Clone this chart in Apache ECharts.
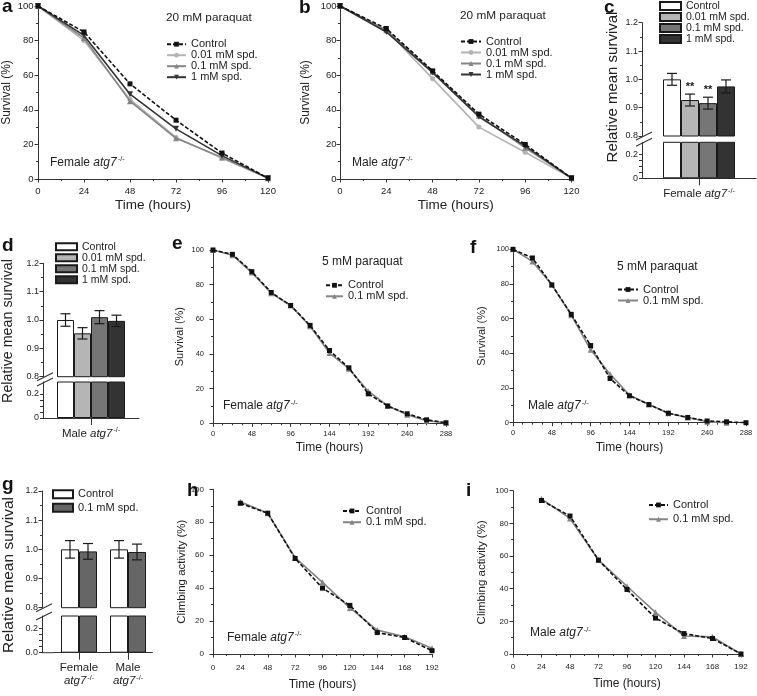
<!DOCTYPE html>
<html><head><meta charset="utf-8">
<script src="https://cdn.jsdelivr.net/npm/echarts@6/dist/echarts.min.js"></script>
<style>html,body{margin:0;padding:0;background:#fff}#main{width:757px;height:696px}</style>
</head><body><div id="main"></div>
<script>
// ================= DATA =================
// panels a, b : 20 mM paraquat survival (%)
const hours20 = [0, 24, 48, 72, 96, 120];
const femA_control = [100, 85, 55, 34, 15, 0.5];
const femA_spd001 = [100, 80, 46, 24, 12, 0.5];
const femA_spd01 = [100, 81.5, 45, 23.5, 12.5, 0.5];
const femA_spd1 = [100, 83, 49, 29, 13.5, 0.5];
const maleB_control = [100, 87, 62.5, 37.5, 20, 0.5];
const maleB_spd001 = [100, 86, 58, 30, 15.5, 0.5];
const maleB_spd01 = [100, 86, 62, 36.5, 18, 0.5];
const maleB_spd1 = [100, 85, 61.5, 36, 19, 0.5];

// group names
const names4 = ['Control', '0.01 mM spd.', '0.1 mM spd.', '1 mM spd.'];
const names2 = ['Control', '0.1 mM spd.'];

// panels c, d : relative mean survival (bars)
const catC = ['Female atg7-/-'];
const meanC = [1.0, 0.927, 0.916, 0.975];
const errC = [0.021, 0.021, 0.021, 0.023];
const sigC = ['', '**', '**', ''];
const catD = ['Male atg7-/-'];
const meanD = [1.0, 0.953, 1.01, 0.997];
const errD = [0.022, 0.02, 0.023, 0.02];
const sigD = ['', '', '', ''];

// panels e, f : 5 mM paraquat survival (%)
const hours5 = [0, 24, 48, 72, 96, 120, 144, 168, 192, 216, 240, 264, 288];
const femE_control = [100, 97.5, 87.5, 75.5, 68, 56.5, 42, 32, 17, 10, 5.5, 2, 0.3];
const femE_spd01 = [100, 97, 87, 75, 68, 56, 40.5, 31.5, 18.5, 10, 5, 1.5, 0.3];
const maleF_control = [100, 95, 79.5, 62.5, 44.5, 25.5, 15.5, 10.5, 5.5, 3, 1, 0.5, 0];
const maleF_spd01 = [100, 93, 79.5, 62, 42, 28, 16, 10.5, 5.5, 3, 0.5, 0];

// panel g : relative mean survival, 5 mM paraquat
const catG = ['Female atg7-/-', 'Male atg7-/-'];
const meanG_control = [1.0, 1.0];
const errG_control = [0.03, 0.03];
const meanG_spd01 = [0.993, 0.991];
const errG_spd01 = [0.027, 0.027];

// panels h, i : climbing activity (%)
const hoursClimb = [24, 48, 72, 96, 120, 144, 168, 192];
const femH_control = [91.5, 85.5, 58, 40, 29.5, 13, 10, 2];
const femH_spd01 = [92.5, 85.5, 58.5, 43.5, 28, 14.5, 10.5, 3.5];
const maleI_control = [94, 84.5, 57.5, 39.5, 22, 12.5, 9.5, 0];
const maleI_spd01 = [95, 83, 57.5, 41.5, 25.5, 11, 10.5, 0];

// tick labels
const tickHours20 = [0, 24, 48, 72, 96, 120];
const tickHours5 = [0, 48, 96, 144, 192, 240, 288];
const tickHoursClimb = [0, 24, 48, 72, 96, 120, 144, 168, 192];
const tickPct = [0, 20, 40, 60, 80, 100];
const tickRelUpper = [0.8, 0.9, 1.0, 1.1, 1.2];
const tickRelLower = [0, 0.2];
const tickRelLowerMinor = [0, 0.05, 0.1, 0.15, 0.2];
const relLowerMax = 0.3;

// texts
const txtSurv = 'Survival (%)';
const txtTime = 'Time (hours)';
const txtClimb = 'Climbing activity (%)';
const txtRel = 'Relative mean survival';

// ================= LAYOUT / STYLE =================
const FONT = 'Liberation Sans';
const INK = '#222';
const AX = '#333';
const L = {
  a: {left: 38, top: 6, width: 230, height: 173},
  b: {left: 340, top: 6, width: 231.5, height: 173},
  cUp: {left: 642, top: 22.7, width: 114, height: 113.3},
  cLow: {left: 642, top: 142.3, width: 114, height: 36},
  dUp: {left: 43, top: 263.3, width: 96, height: 113.4},
  dLow: {left: 43, top: 382, width: 96, height: 36},
  e: {left: 213, top: 250, width: 233, height: 173.3},
  f: {left: 513, top: 249.3, width: 233, height: 173.4},
  gUp: {left: 54.5, top: 491, width: 98, height: 116.7},
  gLow: {left: 54.5, top: 616, width: 98, height: 36.7},
  h: {left: 213, top: 489.3, width: 219, height: 164.7},
  i: {left: 513, top: 490.7, width: 228, height: 163.3}
};
const gridKeys = ['a', 'b', 'cUp', 'cLow', 'dUp', 'dLow', 'e', 'f', 'gUp', 'gLow', 'h', 'i'];
const GI = {}; gridKeys.forEach((k, i) => GI[k] = i);

const ST = {
  control: {color: '#111', dash: [4, 2], symbol: 'rect', size: 5, rotate: 0},
  s001: {color: '#b3b3b3', dash: 'solid', symbol: 'circle', size: 5, rotate: 0},
  s01: {color: '#858585', dash: 'solid', symbol: 'triangle', size: 6, rotate: 0},
  s1: {color: '#333', dash: 'solid', symbol: 'triangle', size: 6, rotate: 180}
};
const BARFILL = ['#ffffff', '#b5b5b5', '#767676', '#333333'];
const BARFILL_G = ['#ffffff', '#666666'];

function stepOf(arr) { return Math.round((arr[1] - arr[0]) * 1000) / 1000; }

function valAxis(key, ticks, o) {
  return {
    type: 'value', gridIndex: GI[key],
    min: ticks[0], max: ticks[ticks.length - 1], interval: stepOf(ticks),
    axisLine: {show: true, onZero: false, lineStyle: {color: AX, width: 1}},
    axisTick: {show: true, inside: false, length: 3.5, lineStyle: {color: AX, width: 1}},
    minorTick: {show: true, splitNumber: o.minor || 2, length: 2, lineStyle: {color: AX, width: 1}},
    splitLine: {show: false}, minorSplitLine: {show: false},
    axisLabel: {fontSize: o.fs, margin: o.margin, color: INK, fontFamily: FONT, showMinLabel: true, showMaxLabel: true,
      formatter: o.fmt},
    name: o.name || '', nameLocation: 'middle', nameGap: o.nameGap, nameMoveOverlap: false,
    nameTextStyle: {fontSize: o.nameFs, color: INK, fontFamily: FONT}
  };
}

function genoRich(label, twoLine) {
  const m = label.match(/^(\S+)\s+(atg7)(.*)$/);
  if (!m) return label;
  return m[1] + (twoLine ? '\n' : ' ') + '{i|' + m[2] + '}{s|' + m[3] + '}';
}
function richStyles(fs, lh) {
  return {
    i: {fontStyle: 'italic', fontSize: fs, fontFamily: FONT, color: INK, fill: INK, lineHeight: lh},
    s: {fontSize: fs * 0.62, fontFamily: FONT, color: INK, fill: INK, verticalAlign: 'top', lineHeight: lh, padding: [0, 0, 0, 1]}
  };
}

// ---------- axes ----------
const xAxes = [], yAxes = [];
function lineAxes(key, xt, xMinor, o) {
  xAxes.push(valAxis(key, xt, {minor: xMinor, fs: o.tfs, margin: o.xMargin, name: txtTime, nameGap: o.xNameGap, nameFs: o.xNameFs}));
  yAxes.push(valAxis(key, tickPct, {minor: 2, fs: o.tfs, margin: o.yMargin, name: o.yName, nameGap: o.yNameGap, nameFs: o.yNameFs}));
}
function barAxes(upKey, lowKey, cats, twoLine, zeroLabel, yOffset) {
  // upper
  xAxes.push({type: 'category', gridIndex: GI[upKey], data: cats, show: false});
  const up = valAxis(upKey, tickRelUpper, {minor: 2, fs: 9, margin: 4, fmt: v => v.toFixed(1)});
  up.offset = yOffset; yAxes.push(up);
  // lower
  xAxes.push({type: 'category', gridIndex: GI[lowKey], data: cats,
    axisLine: {show: true, lineStyle: {color: AX, width: 1}},
    axisTick: {show: true, alignWithLabel: true, length: 7, lineStyle: {color: AX}},
    axisLabel: {interval: 0, margin: 9, fontSize: 11.5, color: INK, fontFamily: FONT, lineHeight: 13,
      formatter: v => genoRich(v, twoLine), rich: richStyles(11.5, 13)}
  });
  yAxes.push({type: 'value', gridIndex: GI[lowKey], min: tickRelLower[0], max: relLowerMax, offset: yOffset,
    axisLine: {show: true, lineStyle: {color: AX, width: 1}},
    axisTick: {show: true, length: 3, customValues: tickRelLowerMinor, lineStyle: {color: AX}},
    splitLine: {show: false},
    axisLabel: {customValues: tickRelLower, fontSize: 9, margin: 4, color: INK, fontFamily: FONT,
      formatter: v => v === 0 ? zeroLabel : v.toFixed(1)}
  });
}

lineAxes('a', tickHours20, 2, {tfs: 9.5, xMargin: 7, xNameGap: 19.5, xNameFs: 13.5, yMargin: 4.5, yName: txtSurv, yNameGap: 25, yNameFs: 12});
lineAxes('b', tickHours20, 2, {tfs: 9.5, xMargin: 7, xNameGap: 19.5, xNameFs: 13.5, yMargin: 3.5, yName: txtSurv, yNameGap: 28, yNameFs: 12});
barAxes('cUp', 'cLow', catC, false, '0', 0);
barAxes('dUp', 'dLow', catD, false, '0', 0);
lineAxes('e', tickHours5, 4, {tfs: 7.5, xMargin: 6.5, xNameGap: 18.5, xNameFs: 12, yMargin: 9, yName: txtSurv, yNameGap: 28, yNameFs: 11});
lineAxes('f', tickHours5, 4, {tfs: 7.5, xMargin: 6.5, xNameGap: 18.5, xNameFs: 12, yMargin: 4, yName: txtSurv, yNameGap: 26, yNameFs: 11});
barAxes('gUp', 'gLow', catG, true, '0.0', 12.5);
lineAxes('h', tickHoursClimb, 2, {tfs: 8, xMargin: 9.5, xNameGap: 25, xNameFs: 12, yMargin: 9, yName: txtClimb, yNameGap: 25, yNameFs: 11.5});
lineAxes('i', tickHoursClimb, 2, {tfs: 8, xMargin: 8.5, xNameGap: 24, xNameFs: 12, yMargin: 4.5, yName: txtClimb, yNameGap: 25, yNameFs: 11.5});

// ---------- series ----------
const series = [];
function lineSer(name, key, xs, ys, st, z) {
  series.push({
    type: 'line', name: name, xAxisIndex: GI[key], yAxisIndex: GI[key],
    data: ys.map((y, i) => [xs[i], y]),
    symbol: st.symbol, symbolSize: st.size, symbolRotate: st.rotate, showSymbol: true,
    lineStyle: {color: st.color, width: 1.6, type: st.dash},
    itemStyle: {color: st.color, borderWidth: 0},
    z: z, silent: true, emphasis: {disabled: true}, animation: false
  });
}
// a
lineSer('0.01 mM spd.|a', 'a', hours20, femA_spd001, ST.s001, 2);
lineSer('0.1 mM spd.|a', 'a', hours20, femA_spd01, ST.s01, 3);
lineSer('1 mM spd.|a', 'a', hours20, femA_spd1, ST.s1, 4);
lineSer('Control|a', 'a', hours20, femA_control, ST.control, 5);
// b
lineSer('0.01 mM spd.|b', 'b', hours20, maleB_spd001, ST.s001, 2);
lineSer('0.1 mM spd.|b', 'b', hours20, maleB_spd01, ST.s01, 3);
lineSer('1 mM spd.|b', 'b', hours20, maleB_spd1, ST.s1, 4);
lineSer('Control|b', 'b', hours20, maleB_control, ST.control, 5);
// e, f, h, i
lineSer('0.1 mM spd.|e', 'e', hours5, femE_spd01, ST.s01, 3);
lineSer('Control|e', 'e', hours5, femE_control, ST.control, 5);
lineSer('0.1 mM spd.|f', 'f', hours5, maleF_spd01, ST.s01, 3);
lineSer('Control|f', 'f', hours5, maleF_control, ST.control, 5);
lineSer('0.1 mM spd.|h', 'h', hoursClimb, femH_spd01, ST.s01, 3);
lineSer('Control|h', 'h', hoursClimb, femH_control, ST.control, 5);
lineSer('0.1 mM spd.|i', 'i', hoursClimb, maleI_spd01, ST.s01, 3);
lineSer('Control|i', 'i', hoursClimb, maleI_control, ST.control, 5);

function barSer(name, key, vals, fill, bw) {
  series.push({
    type: 'bar', name: name, xAxisIndex: GI[key], yAxisIndex: GI[key], data: vals,
    barWidth: bw, barGap: '0%', clip: true,
    itemStyle: {color: fill, borderColor: '#1a1a1a', borderWidth: 1},
    silent: true, emphasis: {disabled: true}, z: 2, animation: false
  });
}
function errSer(key, data, nBars, bw, sigs) {
  series.push({
    type: 'custom', xAxisIndex: GI[key], yAxisIndex: GI[key], data: data, encode: {x: 0, y: 1},
    silent: true, z: 5, animation: false, clip: false,
    renderItem: function (params, api) {
      const ci = api.value(0), m = api.value(1), e = api.value(2), k = api.value(3);
      const top = api.coord([ci, m + e]);
      const bot = api.coord([ci, m - e]);
      const cx = top[0] + (k - (nBars - 1) / 2) * bw;
      const cap = 5;
      const ls = {stroke: '#1a1a1a', lineWidth: 1.2};
      const ch = [
        {type: 'line', shape: {x1: cx, y1: top[1], x2: cx, y2: bot[1]}, style: ls},
        {type: 'line', shape: {x1: cx - cap, y1: top[1], x2: cx + cap, y2: top[1]}, style: ls},
        {type: 'line', shape: {x1: cx - cap, y1: bot[1], x2: cx + cap, y2: bot[1]}, style: ls}
      ];
      const s = sigs ? sigs[params.dataIndex] : '';
      if (s) ch.push({type: 'text', style: {text: s, x: cx, y: top[1] - 2, align: 'center', verticalAlign: 'bottom',
        fontSize: 11, fontWeight: 'bold', fontFamily: FONT, fill: '#1a1a1a'}});
      return {type: 'group', children: ch};
    }
  });
}
// c, d
function fourBars(upKey, lowKey, tag, means, errs, sigs, bw) {
  means.forEach((m, k) => {
    barSer(names4[k] + '|' + tag, upKey, [m], BARFILL[k], bw);
  });
  means.forEach((m, k) => {
    barSer(names4[k] + '|' + tag + 'low', lowKey, [m], BARFILL[k], bw);
  });
  errSer(upKey, means.map((m, k) => [0, m, errs[k], k]), means.length, bw, sigs);
}
fourBars('cUp', 'cLow', 'c', meanC, errC, sigC, 18);
fourBars('dUp', 'dLow', 'd', meanD, errD, sigD, 17);
// g
barSer('Control|g', 'gUp', meanG_control, BARFILL_G[0], 18);
barSer('0.1 mM spd.|g', 'gUp', meanG_spd01, BARFILL_G[1], 18);
barSer('Control|glow', 'gLow', meanG_control, BARFILL_G[0], 18);
barSer('0.1 mM spd.|glow', 'gLow', meanG_spd01, BARFILL_G[1], 18);
errSer('gUp', catG.map((c, j) => [j, meanG_control[j], errG_control[j], 0]), 2, 18, null);
errSer('gUp', catG.map((c, j) => [j, meanG_spd01[j], errG_spd01[j], 1]), 2, 18, null);

// ---------- legends ----------
function legend(tag, names, left, top, iw, ih, rowH, fs, icon) {
  const lg = {
    show: true, orient: 'vertical', left: left, top: top, padding: 0, itemGap: 0,
    itemWidth: iw, itemHeight: ih, selectedMode: false,
    data: names.map(n => n + '|' + tag),
    formatter: n => n.split('|')[0],
    textStyle: {fontSize: fs, lineHeight: rowH, color: INK, fontFamily: FONT}
  };
  if (icon) lg.icon = icon;
  return lg;
}
const legends = [
  legend('a', names4, 166, 38.7, 19, 6, 10.6, 11),
  legend('b', names4, 460, 36, 20, 6, 10.6, 11),
  legend('c', names4, 659, 0.5, 21, 8, 9.6, 10.5, 'rect'),
  legend('d', names4, 55, 241.3, 21, 7, 8.5, 10.5, 'rect'),
  legend('e', names2, 325, 279.8, 17, 6, 10.3, 11),
  legend('f', names2, 617, 284, 20, 6, 10.7, 11),
  legend('g', names2, 52, 487.6, 20, 8, 13.4, 11, 'rect'),
  legend('h', names2, 342, 505.3, 18, 6, 11.3, 11),
  legend('i', names2, 648, 497.8, 19, 6, 14.3, 11)
];

// ---------- free texts ----------
const graphics = [];
function letter(t, x, y) {
  graphics.push({type: 'text', x: x, y: y, silent: true,
    style: {text: t, fontSize: 19, fontWeight: 'bold', fontFamily: FONT, fill: '#111', verticalAlign: 'middle'}});
}
letter('a', 2, 6.5); letter('b', 299, 8.2); letter('c', 604, 8.2);
letter('d', 2, 246); letter('e', 172, 243.5); letter('f', 470, 248);
letter('g', 2, 485); letter('h', 187, 491); letter('i', 466, 491);

function plainText(t, x, y, fs) {
  graphics.push({type: 'text', x: x, y: y, silent: true,
    style: {text: t, fontSize: fs, fontFamily: FONT, fill: INK, verticalAlign: 'middle'}});
}
plainText('20 mM paraquat', 166, 17.5, 11.8);
plainText('20 mM paraquat', 460, 15.5, 11.8);
plainText('5 mM paraquat', 322, 262, 12);
plainText('5 mM paraquat', 617, 267, 12);

function genoText(label, x, y, fs) {
  graphics.push({type: 'text', x: x, y: y, silent: true,
    style: {text: genoRich(label, false), rich: richStyles(fs, fs + 2), fontSize: fs, lineHeight: fs + 2,
      fontFamily: FONT, fill: INK, verticalAlign: 'middle'}});
}
genoText('Female atg7-/-', 50, 162.5, 12);
genoText('Male atg7-/-', 352, 162.5, 12);
genoText('Female atg7-/-', 223, 406, 12);
genoText('Male atg7-/-', 528, 406, 12);
genoText('Female atg7-/-', 227, 637.5, 12);
genoText('Male atg7-/-', 530, 633, 12);

function relName(x, y, fs) {
  graphics.push({type: 'text', x: x, y: y, rotation: Math.PI / 2, silent: true,
    style: {text: txtRel, fontSize: fs, fontFamily: FONT, fill: INK, align: 'center', verticalAlign: 'middle'}});
}
relName(612.5, 87, 15); relName(8.5, 331, 14.3); relName(8.5, 575, 15.5);

// axis break slashes (decoration)
function breakMarks(upKey, lowKey, axisOffset) {
  const ax = L[upKey].left - axisOffset;
  const yUp = L[upKey].top + L[upKey].height;
  const yLow = L[lowKey].top;
  [yUp, yLow].forEach(y => {
    graphics.push({type: 'line', silent: true, shape: {x1: ax - 6, y1: y + 4, x2: ax + 10, y2: y - 4},
      style: {stroke: AX, lineWidth: 1.1}});
  });
}
breakMarks('cUp', 'cLow', 0); breakMarks('dUp', 'dLow', 0); breakMarks('gUp', 'gLow', 12.5);
// extend g's x-axis line to the offset y-axis
graphics.push({type: 'line', silent: true,
  shape: {x1: L.gLow.left - 12.5, y1: L.gLow.top + L.gLow.height, x2: L.gLow.left, y2: L.gLow.top + L.gLow.height},
  style: {stroke: AX, lineWidth: 1}});

// ================= CHART =================
const chart = echarts.init(document.getElementById('main'), null, {renderer: 'canvas'});
chart.setOption({
  backgroundColor: '#ffffff',
  animation: false,
  textStyle: {fontFamily: FONT},
  grid: gridKeys.map(k => Object.assign({containLabel: false, outerBoundsMode: 'none', show: false}, L[k])),
  xAxis: xAxes,
  yAxis: yAxes,
  legend: legends,
  series: series,
  graphic: graphics
});
</script></body></html>
